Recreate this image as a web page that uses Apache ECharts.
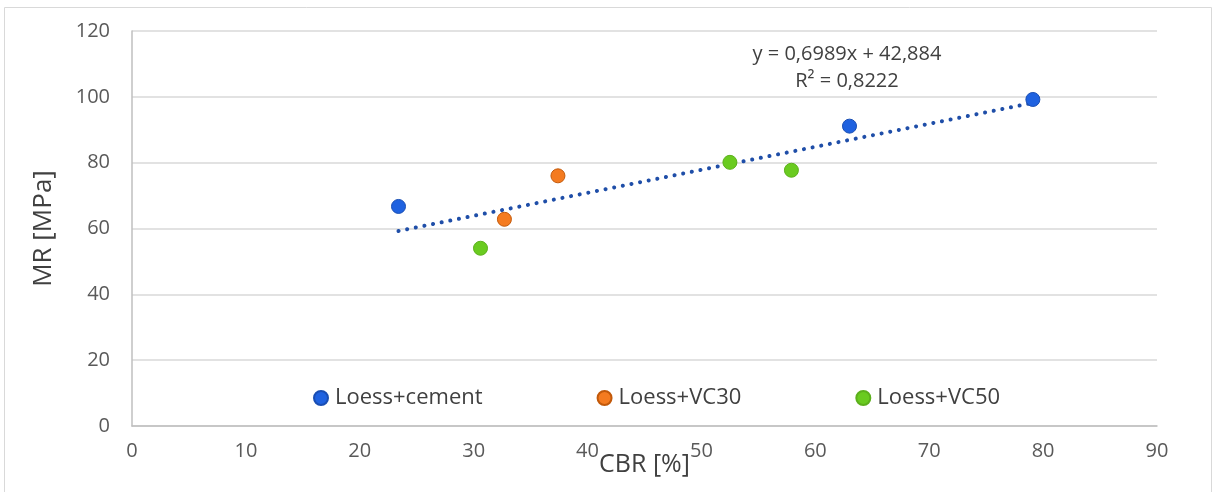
<!DOCTYPE html>
<html><head><meta charset="utf-8">
<script src="https://cdn.jsdelivr.net/npm/echarts@6/dist/echarts.min.js"></script>
<style>html,body{margin:0;padding:0;background:#fff}#c{width:1216px;height:492px}</style>
</head><body><div id="c"></div>
<script>
const seriesNames = ['Loess+cement', 'Loess+VC30', 'Loess+VC50'];
const cementData = [[23.4, 66.7], [63.0, 91.1], [79.1, 99.2]];
const vc30Data = [[32.7, 62.8], [37.4, 76.0]];
const vc50Data = [[30.6, 54.0], [52.5, 80.1], [57.9, 77.7]];
const trendSlope = 0.6989;
const trendIntercept = 42.884;
const equationLines = ['y = 0,6989x + 42,884', 'R² = 0,8222'];
const colors = ['#1f62e0', '#f47b20', '#6acb20'];

const allX = cementData.concat(vc30Data, vc50Data).map(p => p[0]);
const xMin = Math.min(...allX), xMax = Math.max(...allX);
const trendData = [[xMin, trendSlope * xMin + trendIntercept], [xMax, trendSlope * xMax + trendIntercept]];

const font = '"Open Sans", Lato, sans-serif';
const chart = echarts.init(document.getElementById('c'));
const mk = (name, data, color) => ({
  name, type: 'scatter', data, symbolSize: 14,
  itemStyle: { color, borderColor: echarts.color.modifyHSL(color, null, null, 0.4), borderWidth: 1, opacity: 1 },
  z: 3
});
chart.setOption({
  animation: false,
  textStyle: { fontFamily: font },
  grid: { left: 132, right: 59, top: 31, bottom: 66, containLabel: false, outerBoundsMode: 'none' },
  xAxis: {
    type: 'value', min: 0, max: 90, interval: 10,
    name: 'CBR [%]', nameLocation: 'middle', nameGap: 26, nameMoveOverlap: false,
    nameTextStyle: { fontSize: 25, color: '#404040', fontFamily: font },
    axisLine: { show: true, lineStyle: { color: '#bfbfbf', width: 1.5 } },
    axisTick: { show: false },
    axisLabel: { fontSize: 20, color: '#595959', margin: 15, fontFamily: font },
    splitLine: { show: false }
  },
  yAxis: {
    type: 'value', min: 0, max: 120, interval: 20,
    name: 'MR [MPa]', nameLocation: 'middle', nameGap: 75, nameRotate: 90,
    nameTextStyle: { fontSize: 26, color: '#404040', fontFamily: font },
    axisLine: { show: true, lineStyle: { color: '#bfbfbf', width: 1.5 } },
    axisTick: { show: false },
    axisLabel: { fontSize: 20, color: '#595959', margin: 22, fontFamily: font },
    splitLine: { show: true, lineStyle: { color: '#d9d9d9', width: 1.5 } }
  },
  legend: {
    data: seriesNames, left: 308, top: 382, itemGap: 114,
    icon: 'circle', itemWidth: 14, itemHeight: 14,
    textStyle: { fontSize: 22, color: '#404040', fontFamily: font, padding: [0, 0, 0, 2] }
  },
  graphic: [
    { type: 'rect', shape: { x: 4.5, y: 7.5, width: 1207, height: 490 }, style: { fill: 'none', stroke: '#d9d9d9', lineWidth: 1 }, silent: true },
    { type: 'text', x: 847, y: 54, style: { text: equationLines[0], fontSize: 20, fill: '#404040', fontFamily: font, align: 'center', verticalAlign: 'middle' } },
    { type: 'text', x: 847, y: 81, style: { text: equationLines[1], fontSize: 20, fill: '#404040', fontFamily: font, align: 'center', verticalAlign: 'middle' } }
  ],
  series: [
    mk(seriesNames[0], cementData, colors[0]),
    mk(seriesNames[1], vc30Data, colors[1]),
    mk(seriesNames[2], vc50Data, colors[2]),
    {
      name: 'trend', type: 'line', data: trendData, symbol: 'none', z: 2,
      lineStyle: { color: '#1f4ea8', width: 4, type: [0.1, 8.7], cap: 'round' }
    }
  ]
});
</script></body></html>
